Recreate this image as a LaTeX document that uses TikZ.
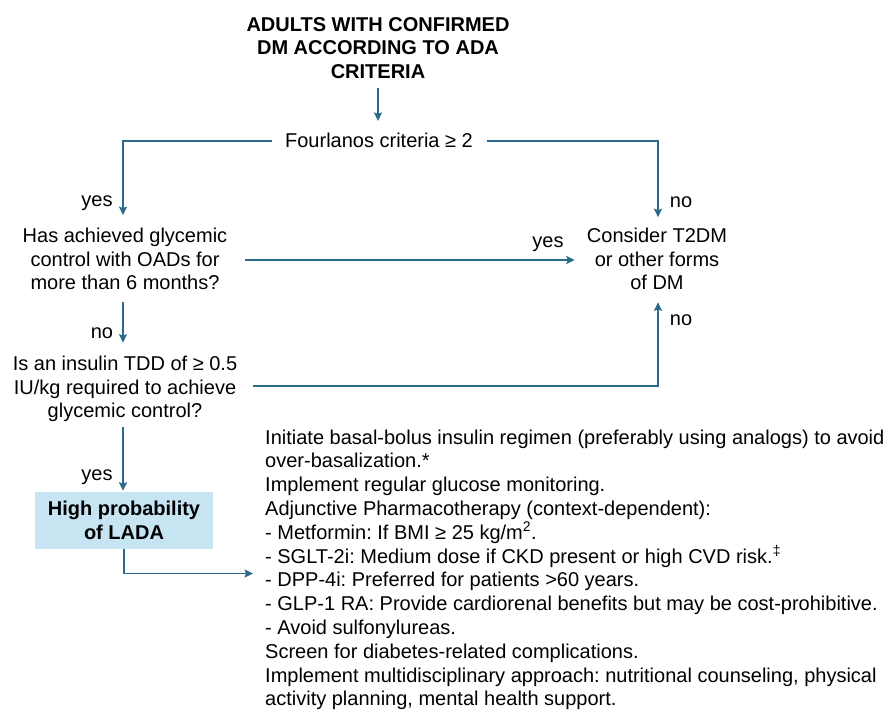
\documentclass[tikz,border=0pt]{standalone}
\usepackage{fontspec}
\setmainfont{Liberation Sans}
\frenchspacing
\usetikzlibrary{arrows.meta,calc}
\definecolor{linec}{HTML}{2A6B8C}
\definecolor{boxfill}{RGB}{198,228,242}
\tikzset{
  x=1pt,y=-1pt,
  txt/.style={inner sep=0pt,align=center,font=\fontsize{20}{23.8}\selectfont},
  lbl/.style={inner sep=0pt,font=\fontsize{20}{24}\selectfont},
  ln/.style={draw=linec,line width=1.8pt},
  arr/.style={ln,-{Stealth[length=8.5pt,width=8pt,inset=1.5pt]}},
  ladabox/.style={fill=boxfill,draw=none,minimum width=178pt,minimum height=57pt,inner sep=0pt,align=center,font=\fontsize{20}{24}\selectfont\bfseries}
}
\begin{document}
\begin{tikzpicture}
\useasboundingbox (0,0) rectangle (887,719);
% nodes
\node[txt,font=\fontsize{20}{23.5}\selectfont\bfseries] (title) at (378,48) {ADULTS WITH CONFIRMED\\DM ACCORDING TO ADA\\CRITERIA};
\node[txt] (four) at (379,140) {Fourlanos criteria ≥ 2};
\node[txt] (q1) at (125,259) {Has achieved glycemic\\control with OADs for\\more than 6 months?};
\node[txt] (t2) at (657,259) {Consider T2DM\\or other forms\\of DM};
\node[txt] (q2) at (125,389) {Is an insulin TDD of ≥ 0.5\\IU/kg required to achieve\\glycemic control?};
\node[ladabox] (lada) at (124,520.5) {High probability\\of LADA};
\node[inner sep=0pt,anchor=north west,align=left,font=\fontsize{20}{23.8}\selectfont] (plan) at (265,429.5) {%
Initiate basal-bolus insulin regimen (preferably using analogs) to avoid\\
over-basalization.*\\
Implement regular glucose monitoring.\\
Adjunctive Pharmacotherapy (context-dependent):\\
- Metformin: If BMI ≥ 25 kg/m\textsuperscript{2}.\\
- SGLT-2i: Medium dose if CKD present or high CVD risk.\textsuperscript{‡}\\
- DPP-4i: Preferred for patients >60 years.\\
- GLP-1 RA: Provide cardiorenal benefits but may be cost-prohibitive.\\
- Avoid sulfonylureas.\\
Screen for diabetes-related complications.\\
Implement multidisciplinary approach: nutritional counseling, physical\\
activity planning, mental health support.};
% labels
\node[lbl] (l1) at (97,203) {yes};
\node[lbl] (l2) at (681,202) {no};
\node[lbl] (l3) at (548,244) {yes};
\node[lbl] (l4) at (102,333) {no};
\node[lbl] (l5) at (681,320) {no};
\node[lbl] (l6) at (97,477) {yes};
% connectors
\draw[arr] ($(title.south)+(0,9)$) -- ($(title.south |- four.north)+(0,-11.5)$);
\draw[arr] ($(four.west)+(-13,1)$) -| ($(q1.north)+(-2,-12.5)$);
\draw[arr] ($(four.east)+(14,1)$) -| ($(t2.north)+(1,-10.5)$);
\draw[arr] ($(q1.east)+(18,1)$) -- ($(t2.west |- q1.east)+(-12,1)$);
\draw[arr] ($(q1.south)+(-2,12)$) -- ($(q2.north)+(-2,-13)$);
\draw[arr] ($(q2.east)+(16,-3)$) -| ($(t2.south)+(1,12)$);
\draw[arr] ($(q2.south)+(-2,5)$) -- ($(lada.north)+(-1,-1)$);
\draw[arr] (lada.south) |- ($(plan.north west)+(-12,144)$);
\end{tikzpicture}
\end{document}
